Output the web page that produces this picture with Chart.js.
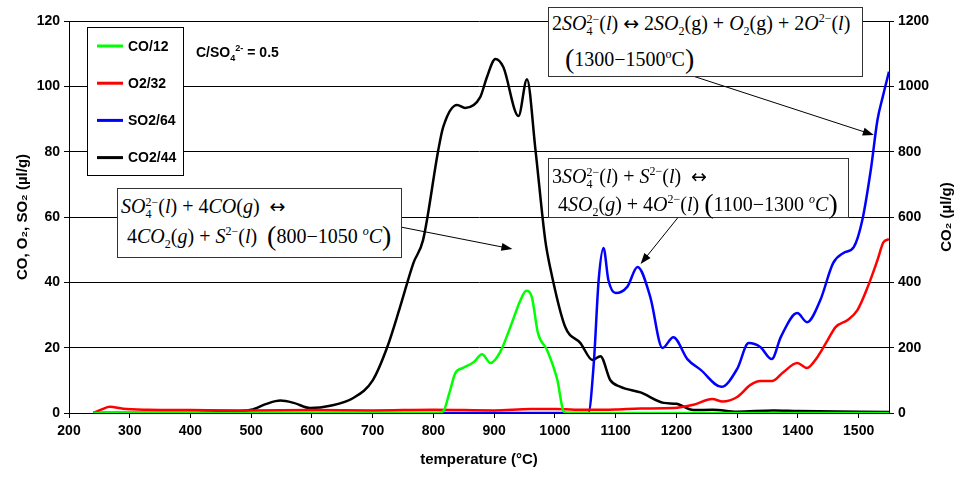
<!DOCTYPE html>
<html>
<head>
<meta charset="utf-8">
<script src="https://cdn.jsdelivr.net/npm/chart.js@4.4.1/dist/chart.umd.min.js"></script>
<style>
  body { margin: 0; background: #fff; }
  #wrap { position: relative; width: 956px; height: 477px; }
  .box { position: absolute; box-sizing: border-box; background: #fff; border: 1px solid #333;
         font-family: 'Liberation Serif', 'Times New Roman', serif; font-size: 20px; color: #000; white-space: nowrap; }
  .box .ln { position: absolute; line-height: 24px; }
  .box sub, .box sup { font-size: 0.6em; line-height: 0; }
  .ss { display: inline-block; font-size: 0.6em; line-height: 1; vertical-align: -0.45em; }
  .ss span { display: block; }
  .bp { font-size: 1.4em; line-height: 0; vertical-align: -0.08em; font-weight: 100; }
  .ar { font-family: 'DejaVu Sans', sans-serif; font-size: 0.95em; }
  .note { position: absolute; font: bold 14px 'Liberation Sans', Arial, sans-serif; color: #000; white-space: nowrap; }
  .note sub, .note sup { font-size: 0.65em; line-height: 0; }
</style>
</head>
<body>
<div id="wrap">
  <canvas id="chartCanvas" width="956" height="477"></canvas>

  <div class="note" style="left:196px; top:44px;">C/SO<sub>4</sub><sup>2-</sup> = 0.5</div>

  <div class="box" style="left:117px; top:188px; width:285px; height:70px;">
    <div class="ln" style="left:3px; top:5px;"><i>SO</i><span class="ss"><span>2−</span><span>4</span></span>(<i>l</i>) + 4<i>CO</i>(<i>g</i>) &nbsp;<span class="ar">↔</span></div>
    <div class="ln" style="left:9px; top:35px;">4<i>CO</i><sub>2</sub>(<i>g</i>) + <i>S</i><sup>2−</sup>(<i>l</i>) &nbsp;<span class="bp">(</span>800−1050 <sup><i>o</i></sup><i>C</i><span class="bp">)</span></div>
  </div>

  <div class="box" style="left:548px; top:158px; width:301px; height:60px;">
    <div class="ln" style="left:3px; top:5px;">3<i>SO</i><span class="ss"><span>2−</span><span>4</span></span>(<i>l</i>) + <i>S</i><sup>2−</sup>(<i>l</i>) &nbsp;<span class="ar">↔</span></div>
    <div class="ln" style="left:9px; top:33px;">4<i>SO</i><sub>2</sub>(<i>g</i>) + 4<i>O</i><sup>2−</sup>(<i>l</i>) <span class="bp">(</span>1100−1300 <sup><i>o</i></sup><i>C</i><span class="bp">)</span></div>
  </div>

  <div class="box" style="left:548px; top:7px; width:315px; height:70px;">
    <div class="ln" style="left:3px; top:3px;">2<i>SO</i><span class="ss"><span>2−</span><span>4</span></span>(<i>l</i>) <span class="ar">↔</span> 2<i>SO</i><sub>2</sub>(g) + <i>O</i><sub>2</sub>(g) + 2<i>O</i><sup>2−</sup>(<i>l</i>)</div>
    <div class="ln" style="left:16px; top:39px;"><span class="bp">(</span>1300−1500<sup>o</sup>C<span class="bp">)</span></div>
  </div>
</div>

<script>
// datos (temperatura en °C)
var coTemp = [240, 400, 600, 800, 816, 826, 836, 849, 866, 880, 894, 910, 929, 942, 953, 962, 972, 987, 1004, 1014, 1020, 1100, 1300, 1550];
var coVals = [0, 0, 0, 0, 0.5, 6, 12.2, 13.8, 15.5, 18, 15.3, 18.7, 27.5, 34, 37.4, 35.5, 24.5, 19.3, 10.1, 0.6, 0, 0, 0, 0];

var o2Temp = [240, 255, 267, 289, 330, 400, 500, 600, 700, 800, 900, 960, 1000, 1050, 1100, 1141, 1195, 1228, 1259, 1276, 1300, 1322, 1338, 1358, 1376, 1399, 1415, 1432, 1449, 1462, 1482, 1498, 1515, 1531, 1541, 1550];
var o2Vals = [0, 1.2, 1.9, 1.3, 1.0, 0.9, 0.8, 0.9, 0.8, 1.0, 0.8, 1.2, 1.2, 1.0, 1.1, 1.4, 1.5, 2.5, 4.3, 3.5, 4.9, 8.6, 9.8, 9.8, 12.5, 15.3, 13.8, 17.1, 22.3, 26.3, 28.5, 31.5, 38.6, 46.8, 52.3, 53.2];

var so2Temp = [240, 600, 1000, 1055, 1064, 1072, 1080, 1088, 1100, 1119, 1136, 1157, 1177, 1195, 1218, 1240, 1274, 1300, 1319, 1338, 1357, 1372, 1399, 1415, 1437, 1458, 1475, 1492, 1506, 1520, 1531, 1540, 1550];
var so2Vals = [0, 0, 0, 0, 15.3, 40.7, 50.5, 40.7, 36.7, 38.6, 44.7, 35.5, 19.9, 23.2, 16.5, 13.2, 8.0, 13.5, 21.4, 20.2, 16.5, 23.3, 30.6, 27.8, 34.6, 45.9, 49, 50.8, 59, 74.4, 89.7, 97, 104.5];

var co2Temp = [240, 300, 400, 450, 500, 525, 548, 570, 597, 630, 668, 700, 724, 745, 767, 783, 808, 816, 839, 852, 877, 888, 902, 915, 940, 954, 968, 984, 992, 1017, 1042, 1062, 1075, 1091, 1108, 1141, 1179, 1200, 1228, 1260, 1300, 1360, 1400, 1550];
var co2Vals = [0, 0, 0, 3, 10, 28, 38, 31, 15, 22, 46, 100, 202, 324, 459, 530, 805, 875, 943, 934, 967, 1028, 1084, 1059, 909, 1022, 805, 530, 447, 263, 214, 162, 174, 101, 80, 63, 31, 28, 9, 10, 4, 8, 6, 3];

var nombresSeries = ["CO/12", "O2/32", "SO2/64", "CO2/44"];
var coloresSeries = ["#00ff00", "#ff0000", "#0000ff", "#000000"];

// flechas de las anotaciones, en coordenadas de datos (eje izquierdo)
var flechas = [
  { desde: [747, 56.9], hasta: [930, 50.2] },
  { desde: [1202, 59.7], hasta: [1141, 45.6] },
  { desde: [1228, 103.1], hasta: [1525, 85.1] }
];

function puntos(xs, ys) {
  return xs.map(function (t, i) { return { x: t, y: ys[i] }; });
}

var fuenteTicks = { family: "'Liberation Sans', Arial, sans-serif", size: 14, weight: "bold" };
var fuenteTitulo = { family: "'Liberation Sans', Arial, sans-serif", size: 15, weight: "bold" };

// leyenda dentro del área, flechas y título derecho
var extras = {
  id: "extras",
  afterDraw: function (chart) {
    var ctx = chart.ctx;
    var sx = chart.scales.x, sy = chart.scales.y;

    // flechas
    ctx.save();
    ctx.strokeStyle = "#000";
    ctx.fillStyle = "#000";
    ctx.lineWidth = 1;
    flechas.forEach(function (f) {
      var x1 = sx.getPixelForValue(f.desde[0]), y1 = sy.getPixelForValue(f.desde[1]);
      var x2 = sx.getPixelForValue(f.hasta[0]), y2 = sy.getPixelForValue(f.hasta[1]);
      var a = Math.atan2(y2 - y1, x2 - x1);
      ctx.beginPath();
      ctx.moveTo(x1, y1);
      ctx.lineTo(x2 - 8 * Math.cos(a), y2 - 8 * Math.sin(a));
      ctx.stroke();
      ctx.beginPath();
      ctx.moveTo(x2, y2);
      ctx.lineTo(x2 - 11 * Math.cos(a) + 4 * Math.sin(a), y2 - 11 * Math.sin(a) - 4 * Math.cos(a));
      ctx.lineTo(x2 - 11 * Math.cos(a) - 4 * Math.sin(a), y2 - 11 * Math.sin(a) + 4 * Math.cos(a));
      ctx.closePath();
      ctx.fill();
    });

    // leyenda
    var area = chart.chartArea;
    var bx = area.left + 18, by = area.top + 6;
    ctx.fillStyle = "#fff";
    ctx.fillRect(bx, by, 96, 148);
    ctx.strokeStyle = "#000";
    ctx.strokeRect(bx + 0.5, by + 0.5, 96, 148);
    ctx.font = "bold 14px 'Liberation Sans', Arial, sans-serif";
    ctx.textBaseline = "middle";
    chart.data.datasets.forEach(function (ds, i) {
      var yy = by + 19 + i * 37.2;
      ctx.strokeStyle = ds.borderColor;
      ctx.lineWidth = 3;
      ctx.beginPath();
      ctx.moveTo(bx + 10, yy);
      ctx.lineTo(bx + 36, yy);
      ctx.stroke();
      ctx.fillStyle = "#000";
      ctx.fillText(ds.label, bx + 41, yy + 1);
    });

    // título del eje derecho
    var sy1 = chart.scales.y1;
    ctx.translate(sy1.right - 9, (area.top + area.bottom) / 2);
    ctx.rotate(-Math.PI / 2);
    ctx.font = "bold 15px 'Liberation Sans', Arial, sans-serif";
    ctx.textAlign = "center";
    ctx.fillText("CO\u2082 (\u00b5l/g)", 0, 0);
    ctx.restore();
  }
};

var chartConfig = {
  type: "line",
  data: {
    datasets: [
      { label: nombresSeries[0], data: puntos(coTemp, coVals), borderColor: coloresSeries[0], yAxisID: "y" },
      { label: nombresSeries[1], data: puntos(o2Temp, o2Vals), borderColor: coloresSeries[1], yAxisID: "y" },
      { label: nombresSeries[2], data: puntos(so2Temp, so2Vals), borderColor: coloresSeries[2], yAxisID: "y" },
      { label: nombresSeries[3], data: puntos(co2Temp, co2Vals), borderColor: coloresSeries[3], yAxisID: "y1" }
    ]
  },
  options: {
    responsive: false,
    animation: false,
    layout: { padding: { top: 21, left: 10, right: 0, bottom: 4 } },
    elements: {
      point: { radius: 0 },
      line: { borderWidth: 2.5, cubicInterpolationMode: "monotone", fill: false }
    },
    plugins: { legend: { display: false }, tooltip: { enabled: false } },
    scales: {
      x: {
        type: "linear", min: 200, max: 1550,
        ticks: { stepSize: 100, includeBounds: false, color: "#000", font: fuenteTicks, padding: 5, maxRotation: 0,
                 callback: function (v) { return String(v); } },
        grid: { drawOnChartArea: false, color: "#000", tickLength: 5 },
        border: { color: "#000", width: 1 },
        title: { display: true, text: "temperature (\u00b0C)", color: "#000", font: fuenteTitulo },
        afterFit: function (s) { s.height = 60; }
      },
      y: {
        position: "left", min: 0, max: 120,
        ticks: { stepSize: 20, color: "#000", font: fuenteTicks, padding: 4 },
        grid: { color: "#000", tickLength: 5 },
        border: { color: "#000", width: 1 },
        title: { display: true, text: "CO, O\u2082, SO\u2082 (\u00b5l/g)", color: "#000", font: fuenteTitulo },
        afterFit: function (s) { s.width = 59; }
      },
      y1: {
        position: "right", min: 0, max: 1200,
        ticks: { stepSize: 200, color: "#000", font: fuenteTicks, padding: 4,
                 callback: function (v) { return String(v); } },
        grid: { drawOnChartArea: false, color: "#000", tickLength: 5 },
        border: { color: "#000", width: 1 },
        afterFit: function (s) { s.width = 67; }
      }
    }
  },
  plugins: [extras]
};

var ctx = document.getElementById("chartCanvas").getContext("2d");
var myChart = new Chart(ctx, chartConfig);
</script>
</body>
</html>
